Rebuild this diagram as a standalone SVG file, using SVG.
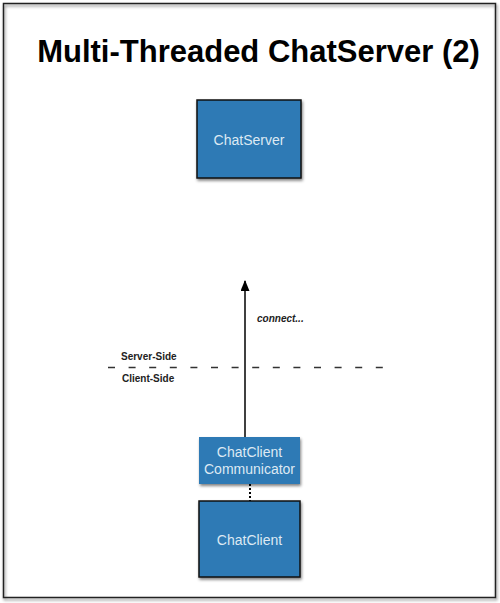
<svg xmlns="http://www.w3.org/2000/svg" width="500" height="603" viewBox="0 0 500 603">
<defs>
<style>
.box{fill:#2f7ab5;}
.dark{stroke:#111;stroke-width:1.5;}
.lbl{font-family:"Liberation Sans",Arial,sans-serif;font-size:14px;fill:#dde9f3;text-anchor:middle;}
.side{font-family:"Liberation Sans",Arial,sans-serif;font-size:10px;font-weight:bold;fill:#222;}
</style>
<filter id="sh" x="-10%" y="-10%" width="130%" height="130%">
<feGaussianBlur in="SourceAlpha" stdDeviation="1.5"/>
<feOffset dx="1" dy="2"/>
<feComponentTransfer><feFuncA type="linear" slope="0.5"/></feComponentTransfer>
<feMerge><feMergeNode/><feMergeNode in="SourceGraphic"/></feMerge>
</filter>
<marker id="ah" markerWidth="11" markerHeight="9" refX="10" refY="4.5" orient="auto" markerUnits="userSpaceOnUse" viewBox="0 0 11 9">
<path d="M0,0 L11,4.5 L0,9 Z" fill="#000"/>
</marker>
</defs>
<rect width="500" height="603" fill="#fff"/>
<rect x="3.5" y="3.5" width="492" height="594" fill="none" stroke="#222" stroke-width="1.5" filter="url(#sh)"/>
<text x="258.5" y="62" font-family="Liberation Sans,Arial,sans-serif" font-size="31" font-weight="bold" fill="#000" text-anchor="middle">Multi-Threaded ChatServer (2)</text>
<g id="connectors">
<line x1="245" y1="437" x2="245" y2="281" stroke="#000" stroke-width="1.5" marker-end="url(#ah)"/>
<line x1="250" y1="484" x2="250" y2="501" stroke="#000" stroke-width="2" stroke-dasharray="2,2"/>
<line x1="108" y1="367.5" x2="386" y2="367.5" stroke="#333" stroke-width="1.3" stroke-dasharray="7,13.6"/>
<text x="257" y="322" font-family="Liberation Sans,Arial,sans-serif" font-size="10" font-style="italic" font-weight="bold" fill="#222">connect...</text>
<text x="121" y="360" class="side">Server-Side</text>
<text x="122" y="382" class="side">Client-Side</text>
</g>
<g id="chatserver">
<rect x="197" y="100" width="104" height="78" class="box dark" filter="url(#sh)"/>
<text x="249" y="145" class="lbl">ChatServer</text>
</g>
<g id="communicator">
<rect x="199" y="437" width="101" height="47" class="box" filter="url(#sh)"/>
<text x="249.5" y="457" class="lbl">ChatClient</text>
<text x="249.5" y="474" class="lbl">Communicator</text>
</g>
<g id="chatclient">
<rect x="199" y="501" width="101" height="76" class="box dark" filter="url(#sh)"/>
<text x="249.5" y="545" class="lbl">ChatClient</text>
</g>
</svg>
